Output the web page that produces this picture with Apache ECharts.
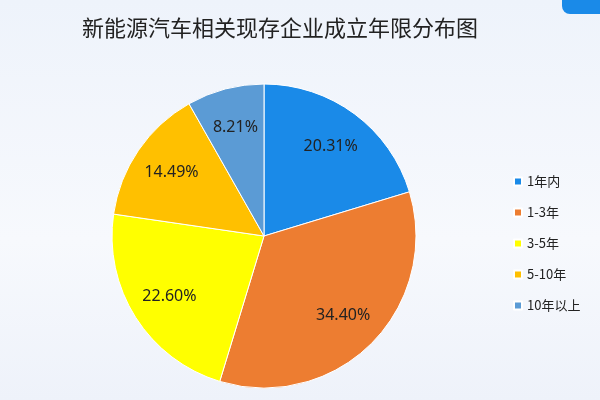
<!DOCTYPE html>
<html><head><meta charset="utf-8">
<script src="https://cdn.jsdelivr.net/npm/echarts@6/dist/echarts.min.js"></script>
<style>html,body{margin:0;padding:0;}#main{width:600px;height:400px;background:linear-gradient(180deg,#eef3fb 0%,#f7f9fd 60%,#eef2fa 100%);}</style>
</head><body><div id="main"></div>
<script>
var categories = ['1年内', '1-3年', '3-5年', '5-10年', '10年以上'];
var values = [20.31, 34.40, 22.60, 14.49, 8.21];
var colors = ['#1a8ae8', '#ed7d31', '#ffff00', '#ffc000', '#5b9bd5'];

var myChart = echarts.init(document.getElementById('main'));
var pieData = categories.map(function (c, i) { return {name: c, value: values[i], itemStyle: {color: colors[i]}}; });
myChart.setOption({
  title: {
    text: '新能源汽车相关现存企业成立年限分布图',
    left: 275, top: 12, textAlign: 'center',
    textStyle: {fontSize: 22, fontWeight: 'normal', color: '#222', fontFamily: 'Noto Sans CJK SC'}
  },
  graphic: [{type: 'rect', shape: {x: 562, y: -12, width: 50, height: 26, r: 8}, style: {fill: '#1a8ae8'}}],
  legend: {
    orient: 'vertical', left: 508, top: 170, itemGap: 18,
    itemWidth: 8, itemHeight: 8, icon: 'rect',
    textStyle: {fontSize: 13, color: '#222', fontFamily: 'Noto Sans CJK SC'},
    data: categories
  },
  series: [{
    type: 'pie',
    center: [264, 236], radius: 152,
    startAngle: 90, clockwise: true,
    itemStyle: {borderColor: '#fff', borderWidth: 1},
    label: {show: false},
    emphasis: {disabled: true},
    data: pieData
  }, {
    type: 'pie',
    center: [264, 236], radius: [66, 152],
    startAngle: 90, clockwise: true,
    silent: true,
    itemStyle: {color: 'transparent', borderWidth: 0},
    label: {position: 'inside', formatter: function (p) { return p.value.toFixed(2) + '%'; },
      fontSize: 16, color: '#222', fontFamily: 'Noto Sans'},
    data: values.map(function (v, i) { return {name: categories[i], value: v, itemStyle: {color: 'transparent'}}; })
  }]
});
</script></body></html>
